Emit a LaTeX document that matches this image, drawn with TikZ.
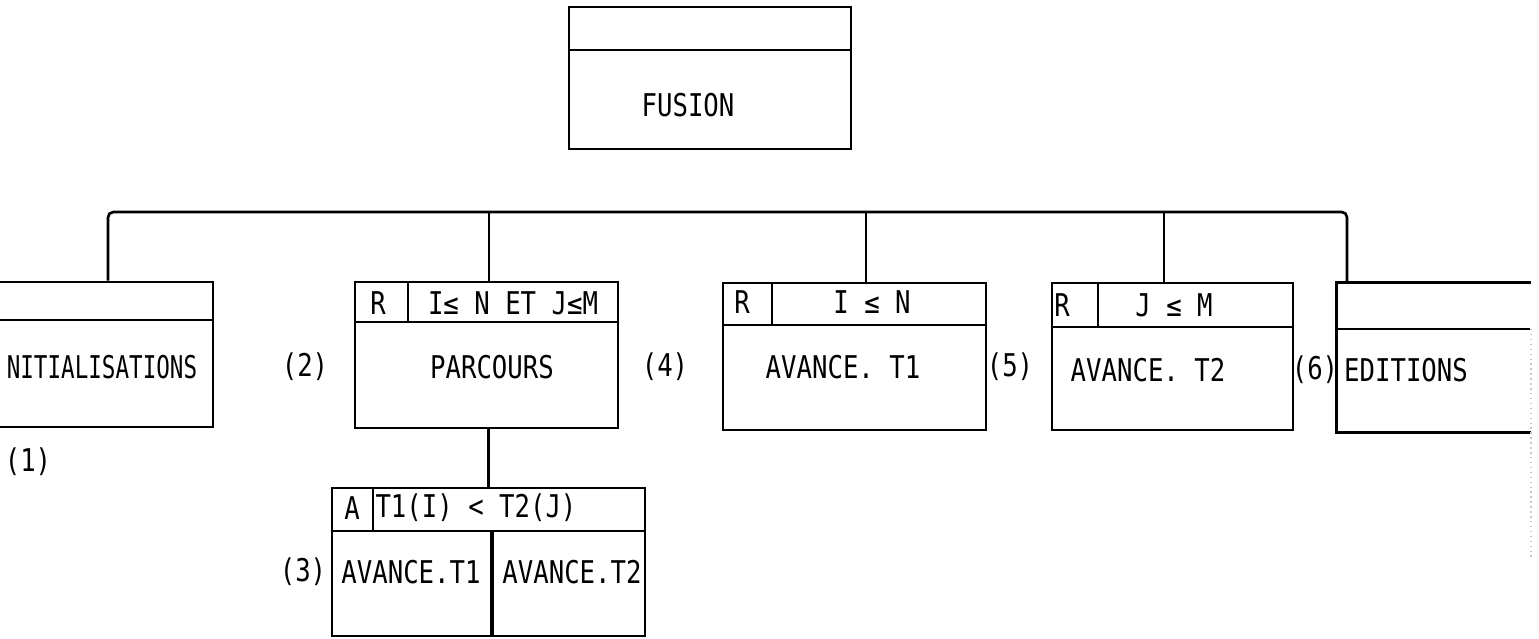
\documentclass[tikz,border=0pt]{standalone}
\usepackage{fontspec}
\newfontfamily\typo{DejaVu Sans Mono}
\usetikzlibrary{fit}
\tikzset{
  lbl/.style={font=\typo\fontsize{7.3}{8}\selectfont, inner sep=0pt, yscale=1.22, transform shape},
  box/.style={draw, inner sep=0pt, line width=0.75pt},
  rule/.style={line width=0.75pt}
}
\begin{document}
\begin{tikzpicture}[x=0.01cm, y=-0.01cm]
  \useasboundingbox (0,0) rectangle (1539,638);

  % Main box (top)
  \node[box, fit={(569,7) (851,149)}] (fusion) {};
  \draw[rule] (569,50) -- (851,50);
  \node[lbl] (fusionT) at (688,105) {FUSION};

  % Initialisations (cut at the left border)
  \node[box, fit={(-10,282) (213,427)}] (init) {};
  \draw[rule] (-10,320) -- (213,320);
  \node[lbl, xscale=0.88] (initT) at (102,367) {NITIALISATIONS};
  \node[lbl] (n1) at (28,462) {(1)};

  % Parcours
  \node[box, fit={(355,282) (618,428)}] (parc) {};
  \draw[rule] (355,322) -- (618,322);
  \draw[rule] (408,282) -- (408,322);
  \node[lbl] (parcR) at (378,303) {R};
  \node[lbl] (parcC) at (513,303) {I≤ N ET J≤M};
  \node[lbl] (parcT) at (492,367) {PARCOURS};
  \node[lbl] (n2) at (305,367) {(2)};
  \node[lbl] (n4) at (665,367) {(4)};

  % Avance T1
  \node[box, fit={(723,283) (986,430)}] (avone) {};
  \draw[rule] (723,325) -- (986,325);
  \draw[rule] (772,283) -- (772,325);
  \node[lbl] (avoneR) at (742,302) {R};
  \node[lbl] (avoneC) at (872,302) {I ≤ N};
  \node[lbl] (avoneT) at (843,367) {AVANCE. T1};
  \node[lbl] (n5) at (1010,367) {(5)};

  % Avance T2
  \node[box, fit={(1052,283) (1293,430)}] (avtwo) {};
  \draw[rule] (1052,327) -- (1293,327);
  \draw[rule] (1098,283) -- (1098,327);
  \node[lbl] (avtwoR) at (1062,305) {R};
  \node[lbl] (avtwoC) at (1174,305) {J ≤ M};
  \node[lbl] (avtwoT) at (1148,370) {AVANCE. T2};
  \node[lbl] (n6) at (1315,370) {(6)};

  % Editions (open at the right)
  \node[fit={(1337,283) (1530,432)}, inner sep=0pt] (edit) {};
  \draw[rule] (edit.north east) -- (edit.north west) -- (edit.south west) -- (edit.south east);
  \draw[rule] (1337,329) -- (1530,329);
  \draw[gray!45, densely dotted] (1531,329) -- (1531,560);
  \node[lbl] (editT) at (1406,370) {EDITIONS};

  % Alternative under Parcours
  \node[box, fit={(332,488) (645,636)}] (alt) {};
  \draw[rule] (332,531) -- (645,531);
  \draw[rule] (373,488) -- (373,531);
  \draw[line width=1.3pt] (492,531) -- (492,636);
  \node[lbl] (altA) at (352,508) {A};
  \node[lbl] (altC) at (476,508) {T1(I) < T2(J)};
  \node[lbl] (altL) at (411,572) {AVANCE.T1};
  \node[lbl] (altR) at (572,572) {AVANCE.T2};
  \node[lbl] (n3) at (303,572) {(3)};

  % Bus and connectors
  \coordinate (b1) at (108,212);
  \coordinate (b2) at (489,212);
  \coordinate (b3) at (866,212);
  \coordinate (b4) at (1164,212);
  \coordinate (b5) at (1347,212);
  \draw[rule, rounded corners=1.5pt] (b1 |- init.north) -- (b1) -- (b5) -- (b5 |- edit.north);
  \draw[rule] (b2) -- (b2 |- parc.north);
  \draw[rule] (b3) -- (b3 |- avone.north);
  \draw[rule] (b4) -- (b4 |- avtwo.north);
  \draw[rule] (alt.north |- parc.south) -- (alt.north);
\end{tikzpicture}
\end{document}
